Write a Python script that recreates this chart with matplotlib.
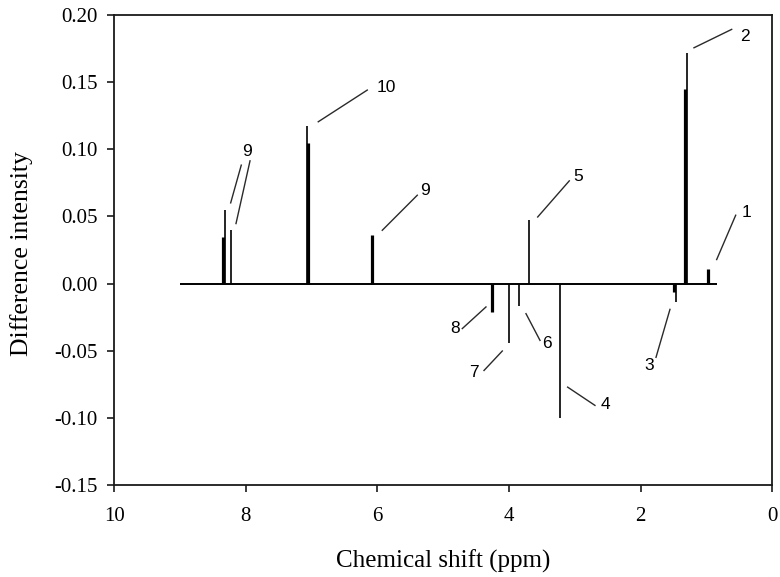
import matplotlib
matplotlib.use("Agg")
import matplotlib.pyplot as plt

# Difference spectrum: chemical shift (ppm) and intensity of each resonance line
shift_ppm = [8.34, 8.32, 8.23, 7.07, 7.05, 6.09, 4.26, 4.00, 3.85, 3.70, 3.22,
             1.49, 1.47, 1.32, 1.30, 0.98]
intensity = [0.035, 0.055, 0.040, 0.117, 0.105, 0.036, -0.021, -0.044, -0.017,
             0.047, -0.100, -0.006, -0.014, 0.145, 0.172, 0.011]
# heavy (doubled) lines vs. single lines
heavy = [True, False, False, False, True, True, True, False, False,
         False, False, True, False, True, False, True]

baseline_range = (9.0, 0.84)

# Peak assignments: label, label position (ppm, intensity), leader start, leader end
peak_labels = ["1", "2", "3", "4", "5", "6", "7", "8", "9", "10", "9"]
label_pos = [(0.39, 0.0526), (0.415, 0.1843), (1.87, -0.0609), (2.54, -0.0900),
             (2.95, 0.0800), (3.43, -0.0443), (4.54, -0.0659), (4.82, -0.0331),
             (5.28, 0.0690), (5.86, 0.1458), (7.99, 0.0981)]
leader_start = [(0.845, 0.0179), (1.19, 0.1756), (1.555, -0.0192), (3.11, -0.0771),
                (3.565, 0.0496), (3.743, -0.0224), (4.103, -0.0502), (4.351, -0.0174),
                (5.927, 0.0397), (6.90, 0.1205), (8.231, 0.0601)]
leader_end = [(0.556, 0.0509), (0.617, 0.1893), (1.767, -0.0549), (2.695, -0.0907),
              (3.085, 0.0765), (3.53, -0.0423), (4.381, -0.0647), (4.711, -0.0335),
              (5.395, 0.0658), (6.155, 0.1441), (8.07, 0.0882)]
# second leader for the 8.3 ppm group
extra_leader = [((8.15, 0.0447), (7.937, 0.0914))]

x_ticks = [10, 8, 6, 4, 2, 0]
y_ticks = [0.20, 0.15, 0.10, 0.05, 0.00, -0.05, -0.10, -0.15]

serif = ["Liberation Serif", "DejaVu Serif"]
sans = ["Liberation Sans", "DejaVu Sans"]

fig = plt.figure(figsize=(7.8, 5.77), dpi=100)
ax = fig.add_axes([0.1465, 0.1594, 0.8436, 0.8146])

# baseline and resonance lines
ax.hlines(0, baseline_range[0], baseline_range[1], color="black", lw=1.4, zorder=2)
for x, y, h in zip(shift_ppm, intensity, heavy):
    ax.vlines(x, 0, y, color="black", lw=2.3 if h else 1.2, zorder=3)

# leader lines and peak numbers
for (x0, y0), (x1, y1) in zip(leader_start, leader_end):
    ax.plot([x0, x1], [y0, y1], color="#2a2a2a", lw=1.0, zorder=2)
for (x0, y0), (x1, y1) in extra_leader:
    ax.plot([x0, x1], [y0, y1], color="#2a2a2a", lw=1.0, zorder=2)
for txt, (x, y) in zip(peak_labels, label_pos):
    ax.text(x, y, txt, ha="center", va="center", fontsize=12.5,
            family=sans, color="black")

ax.set_xlim(10, 0)
ax.set_ylim(-0.15, 0.20)
ax.set_xticks(x_ticks)
ax.set_xticklabels([str(v) for v in x_ticks])
ax.set_yticks(y_ticks)
ax.set_yticklabels([f"{v:.2f}" for v in y_ticks])

for sp in ax.spines.values():
    sp.set_linewidth(1.3)
    sp.set_color("#1a1a1a")

ax.tick_params(axis="both", direction="out", length=5, width=1.2, color="#1a1a1a")
ax.tick_params(axis="x", pad=11)
ax.tick_params(axis="y", pad=7)
for lab in ax.get_xticklabels() + ax.get_yticklabels():
    lab.set_family(serif)
    lab.set_fontsize(15)

fig.text(0.5 * (0.1465 + 0.99), 1 - 550 / 577, "Chemical shift (ppm)",
         ha="center", va="top", fontsize=18, family=serif)
fig.text(21.5 / 780, 1 - 254 / 577, "Difference intensity", rotation=90,
         ha="center", va="center", fontsize=18.5, family=serif)

fig.savefig("out.png", dpi=100)
